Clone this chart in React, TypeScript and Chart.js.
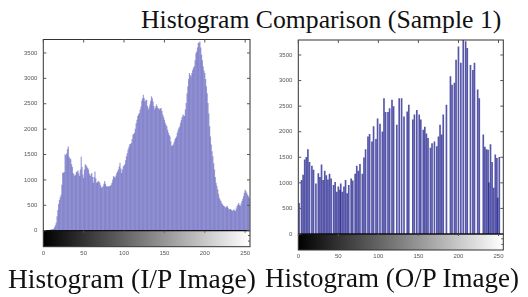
import React, { useEffect, useRef } from "react";
import { Chart, registerables } from "chart.js";

Chart.register(...registerables);

// ---------- data ----------
const inputCounts: number[] = [
  0, 0, 0, 0, 0, 0, 5, 8, 10, 12, 15, 20, 25, 35, 60, 100,
  150, 280, 400, 520, 600, 650, 700, 900, 1130, 1140, 1150, 1500, 1480, 1520, 1600, 1650,
  1450, 1420, 1400, 1300, 1250, 1130, 1100, 1070, 1100, 1150, 1160, 1180, 1120, 1070, 1200, 1450,
  1250, 1100, 1030, 1200, 1300, 1280, 1260, 1230, 1200, 1120, 1070, 1100, 1130, 1050, 940, 1050,
  1160, 1020, 940, 950, 970, 960, 940, 890, 840, 850, 870, 920, 970, 920, 870, 870,
  860, 870, 870, 880, 900, 940, 1000, 1070, 1050, 1040, 1080, 1130, 1160, 1200, 1260, 1330,
  1220, 1130, 1200, 1260, 1280, 1300, 1380, 1460, 1520, 1590, 1640, 1690, 1700, 1720, 1800, 1890,
  1900, 1920, 2000, 2110, 2180, 2250, 2280, 2310, 2380, 2440, 2550, 2600, 2670, 2600, 2540, 2560,
  2570, 2450, 2380, 2420, 2480, 2550, 2640, 2600, 2540, 2450, 2380, 2420, 2480, 2450, 2410, 2400,
  2380, 2400, 2410, 2350, 2280, 2230, 2180, 2120, 2080, 2050, 1980, 1920, 1880, 1850, 1750, 1660,
  1670, 1690, 1740, 1790, 1820, 1850, 1920, 1980, 2020, 2050, 2120, 2180, 2230, 2280, 2260, 2250,
  2380, 2510, 2700, 2840, 2980, 3100, 3060, 3030, 3100, 3160, 3200, 3230, 3350, 3490, 3520, 3600,
  3690, 3700, 3720, 3600, 3460, 3350, 3230, 3150, 3100, 2980, 2840, 2700, 2510, 2300, 2050, 1850,
  1690, 1560, 1460, 1320, 1200, 1050, 940, 880, 810, 720, 640, 610, 580, 540, 510, 490,
  480, 460, 450, 470, 480, 440, 410, 420, 420, 400, 380, 400, 410, 390, 380, 430,
  480, 510, 540, 500, 480, 530, 580, 620, 670, 740, 800, 770, 740, 700, 670, 640,
];

const outputLevels: number[] = [
  1, 4, 6, 8, 10, 12, 14, 17, 19, 22, 25, 27, 29, 31, 33, 35,
  37, 39, 41, 44, 46, 48, 50, 52, 53, 55, 57, 59, 61, 63, 66, 68,
  71, 73, 75, 77, 80, 82, 84, 87, 89, 92, 94, 97, 99, 102, 105, 107,
  109, 112, 114, 117, 119, 123, 126, 129, 132, 136, 138, 143, 145, 148, 151, 153,
  156, 158, 160, 162, 165, 167, 170, 173, 175, 177, 179, 181, 185, 190, 192, 195,
  197, 200, 203, 206, 209, 211, 215, 218, 220, 224, 226, 231, 233, 235, 237, 238,
  240, 242, 244, 246, 248, 249, 251,
];

const outputCounts: number[] = [
  600, 1050, 1150, 1450, 1500, 1650, 1400, 1330, 1250, 980, 1180, 1110, 1350, 1050, 1230, 1140,
  1060, 1170, 1080, 950, 1010, 820, 920, 860, 980, 820, 920, 1050, 790, 950, 1080, 1040,
  1170, 1330, 1230, 1360, 1170, 1490, 1650, 1900, 1950, 1800, 2100, 1850, 2250, 2150, 2000, 2650,
  2380, 2380, 2450, 2620, 2490, 2130, 2650, 2650, 2290, 2390, 2520, 2230, 2330, 2420, 2330, 2230,
  2030, 2090, 1960, 1870, 1680, 1770, 1800, 1710, 1900, 2130, 1940, 2330, 2520, 3080, 2910, 2950,
  3400, 3660, 3340, 3790, 3760, 3630, 3300, 3200, 3340, 2820, 2650, 1940, 1700, 1650, 1640, 1000,
  1750, 1400, 900, 1550, 1480, 700, 1500,
];

const xTickValues: number[] = [0, 50, 100, 150, 200, 250];
const yTickValues: number[] = [0, 500, 1000, 1500, 2000, 2500, 3000, 3500];

const titleText = "Histogram Comparison (Sample 1)";
const captionLeft = "Histogram (I/P Image)";
const captionRight = "Histogram (O/P Image)";

// ---------- plugin: MATLAB-like box, inward ticks and gray colorbar ----------
const matlabAxes = {
  id: "matlabAxes",
  afterDraw(chart: any, _args: any, opts: any) {
    const { ctx, chartArea: a, scales } = chart;
    const x = scales.x;
    const y = scales.y;
    const gh = opts.gradientHeight || 16;
    ctx.save();
    const g = ctx.createLinearGradient(x.getPixelForValue(0), 0, x.getPixelForValue(255), 0);
    g.addColorStop(0, "#000000");
    g.addColorStop(1, "#ffffff");
    ctx.fillStyle = g;
    ctx.fillRect(a.left, a.bottom, a.right - a.left, gh);

    ctx.strokeStyle = "#333333";
    ctx.lineWidth = 1;
    ctx.strokeRect(a.left, a.top, a.right - a.left, a.bottom - a.top + gh);

    ctx.beginPath();
    ctx.moveTo(a.left, a.bottom);
    ctx.lineTo(a.right, a.bottom);
    ctx.lineWidth = 1.3;
    ctx.strokeStyle = "#111111";
    ctx.stroke();

    ctx.lineWidth = 1;
    ctx.strokeStyle = "#555555";
    ctx.beginPath();
    xTickValues.forEach((v) => {
      const px = x.getPixelForValue(v);
      ctx.moveTo(px, a.top);
      ctx.lineTo(px, a.top + 3);
      ctx.moveTo(px, a.bottom);
      ctx.lineTo(px, a.bottom + 2);
    });
    yTickValues.forEach((v) => {
      const py = y.getPixelForValue(v);
      ctx.moveTo(a.left, py);
      ctx.lineTo(a.left + 3, py);
      ctx.moveTo(a.right, py);
      ctx.lineTo(a.right - 3, py);
    });
    ctx.moveTo(a.right, a.bottom + gh * 0.3);
    ctx.lineTo(a.right - 2, a.bottom + gh * 0.3);
    ctx.moveTo(a.right, a.bottom + gh * 0.65);
    ctx.lineTo(a.right - 2, a.bottom + gh * 0.65);
    ctx.stroke();
    ctx.restore();
  },
};

type PanelSpec = {
  points: { x: number; y: number }[];
  yMax: number;
  barWidth: number;
  color: string;
  padTop: number;
  padRight: number;
  xAxisHeight: number;
};

function makeConfig(p: PanelSpec): any {
  const tickFont = { family: "'Liberation Sans', Arial, sans-serif", size: 6 };
  return {
    type: "bar",
    data: {
      datasets: [
        {
          data: p.points,
          backgroundColor: p.color,
          borderWidth: 0,
          barThickness: p.barWidth,
          grouped: false,
        },
      ],
    },
    options: {
      animation: false,
      responsive: false,
      devicePixelRatio: 1,
      layout: { padding: { top: p.padTop, right: p.padRight, left: 0, bottom: 0 } },
      plugins: {
        legend: { display: false },
        tooltip: { enabled: false },
        title: { display: false },
        matlabAxes: { gradientHeight: 16 },
      },
      scales: {
        x: {
          type: "linear",
          min: 0,
          max: 256,
          offset: false,
          grid: { display: false, drawTicks: true, tickLength: 19 },
          border: { display: false },
          afterBuildTicks: (s: any) => {
            s.ticks = xTickValues.map((v) => ({ value: v }));
          },
          afterFit: (s: any) => {
            s.height = p.xAxisHeight;
          },
          ticks: {
            padding: 0,
            color: "#555555",
            font: tickFont,
            maxRotation: 0,
            autoSkip: false,
            callback: (v: any) => String(v),
          },
        },
        y: {
          type: "linear",
          min: 0,
          max: p.yMax,
          grid: { display: false, drawTicks: true, tickLength: 6 },
          border: { display: false },
          afterBuildTicks: (s: any) => {
            s.ticks = yTickValues.map((v) => ({ value: v }));
          },
          afterFit: (s: any) => {
            s.width = 43.3;
          },
          ticks: {
            padding: 0,
            color: "#555555",
            font: tickFont,
            autoSkip: false,
            callback: (v: any) => String(v),
          },
        },
      },
    },
    plugins: [matlabAxes],
  };
}

function Panel(props: { spec: PanelSpec; left: number; top: number }) {
  const ref = useRef<HTMLCanvasElement | null>(null);
  useEffect(() => {
    if (!ref.current) return;
    const chart = new Chart(ref.current, makeConfig(props.spec));
    return () => chart.destroy();
  }, []);
  return (
    <canvas
      ref={ref}
      width={260}
      height={240}
      style={{ position: "absolute", left: props.left, top: props.top, width: 260, height: 240 }}
    />
  );
}

const textStyle: React.CSSProperties = {
  position: "absolute",
  fontFamily: "'Liberation Serif', 'Times New Roman', serif",
  lineHeight: 1,
  whiteSpace: "nowrap",
  color: "#111",
};

export default function App() {
  const leftSpec: PanelSpec = {
    points: inputCounts.map((v, i) => ({ x: i, y: v })),
    yMax: 3765,
    barWidth: 0.6,
    color: "rgba(70,70,180,0.5)",
    padTop: 9.5,
    padRight: 10,
    xAxisHeight: 39.3,
  };
  const rightSpec: PanelSpec = {
    points: outputLevels.map((lv, i) => ({ x: lv, y: outputCounts[i] })),
    yMax: 3793,
    barWidth: 1,
    color: "rgba(30,30,140,0.75)",
    padTop: 10,
    padRight: 11.7,
    xAxisHeight: 36,
  };
  return (
    <div style={{ position: "absolute", left: 0, top: 0, width: 528, height: 297, background: "#fff", overflow: "hidden" }}>
      <div style={{ ...textStyle, left: 141, top: 7, fontSize: 25.7 }}>{titleText}</div>
      <Panel spec={leftSpec} left={0} top={30} />
      <Panel spec={rightSpec} left={255} top={30} />
      <div style={{ ...textStyle, left: 8, top: 265, fontSize: 27.5 }}>{captionLeft}</div>
      <div style={{ ...textStyle, left: 265, top: 265, fontSize: 27 }}>{captionRight}</div>
    </div>
  );
}
